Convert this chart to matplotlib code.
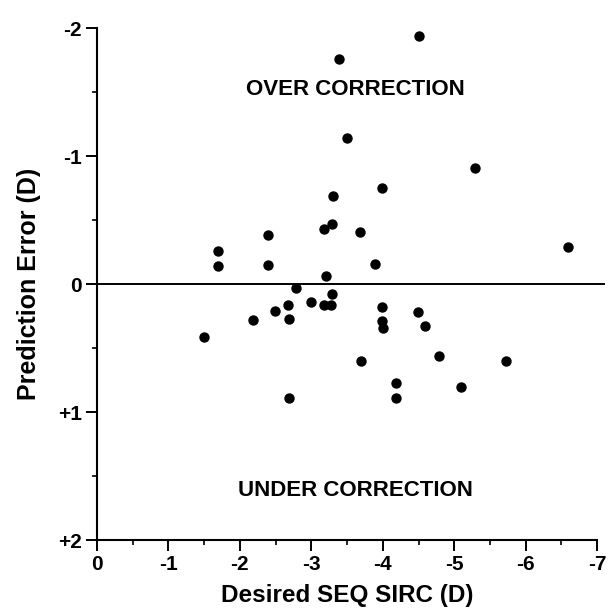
import numpy as np
import matplotlib
matplotlib.use("Agg")
import matplotlib.pyplot as plt
from matplotlib.ticker import MultipleLocator

plt.rcParams['font.family'] = ['Liberation Sans', 'DejaVu Sans']
plt.rcParams['font.weight'] = 'bold'

# Desired SEQ SIRC (D) vs prediction error (D)
desired_seq = np.array([
    -3.38, -4.50, -3.50, -5.29, -3.99, -3.30, -3.29, -3.18, -3.68, -3.89,
    -3.20, -6.59, -2.79, -3.29, -3.00, -3.18, -3.28, -3.99, -4.49, -3.99,
    -4.00, -4.59, -3.69, -4.78, -5.73, -4.18, -4.19, -5.09, -2.69, -1.50,
    -2.19, -2.49, -2.68, -2.69, -1.69, -1.69, -2.39, -2.40,
])
prediction_error = np.array([
    -1.76, -1.94, -1.14, -0.91, -0.75, -0.69, -0.47, -0.43, -0.41, -0.16,
    -0.06, -0.29, 0.03, 0.08, 0.14, 0.16, 0.16, 0.18, 0.22, 0.29,
    0.34, 0.33, 0.60, 0.56, 0.60, 0.77, 0.89, 0.80, 0.89, 0.41,
    0.28, 0.21, 0.16, 0.27, -0.26, -0.14, -0.38, -0.15,
])

x_ticks = [0, -1, -2, -3, -4, -5, -6, -7]
x_tick_labels = ['0', '-1', '-2', '-3', '-4', '-5', '-6', '-7']
y_ticks = [-2, -1, 0, 1, 2]
y_tick_labels = ['-2', '-1', '0', '+1', '+2']

fig = plt.figure(figsize=(6.1, 6.11), dpi=100)
ax = fig.add_axes([0.159, 0.116, 0.820, 0.838])

ax.scatter(desired_seq, prediction_error, s=42, color='black', zorder=3)
ax.plot([0, -7.1], [0, 0], color='black', lw=1.4, clip_on=False)

ax.set_xlim(0, -7)
ax.set_ylim(2, -2)

for side in ['top', 'right']:
    ax.spines[side].set_visible(False)
for side in ['left', 'bottom']:
    ax.spines[side].set_linewidth(1.5)

ax.set_xticks(x_ticks)
ax.set_xticklabels(x_tick_labels)
ax.set_yticks(y_ticks)
ax.set_yticklabels(y_tick_labels)
ax.xaxis.set_minor_locator(MultipleLocator(0.5))
ax.yaxis.set_minor_locator(MultipleLocator(0.5))
ax.tick_params(which='major', direction='out', length=8, width=1.4, pad=3)
ax.tick_params(axis='x', which='major', labelsize=15)
ax.tick_params(axis='y', which='major', labelsize=15)
ax.tick_params(which='minor', direction='out', length=3.5, width=1.2)

ax.set_xlabel('Desired SEQ SIRC (D)', fontsize=17.5, fontweight='bold', labelpad=7)
ax.set_ylabel('Prediction Error (D)', fontsize=18, fontweight='bold', labelpad=12)

ax.text(-3.62, -1.52, 'OVER CORRECTION', fontsize=16, fontweight='bold', ha='center', va='center')
ax.text(-3.62, 1.61, 'UNDER CORRECTION', fontsize=16, fontweight='bold', ha='center', va='center')

plt.savefig('out.png', dpi=100)
plt.close()
